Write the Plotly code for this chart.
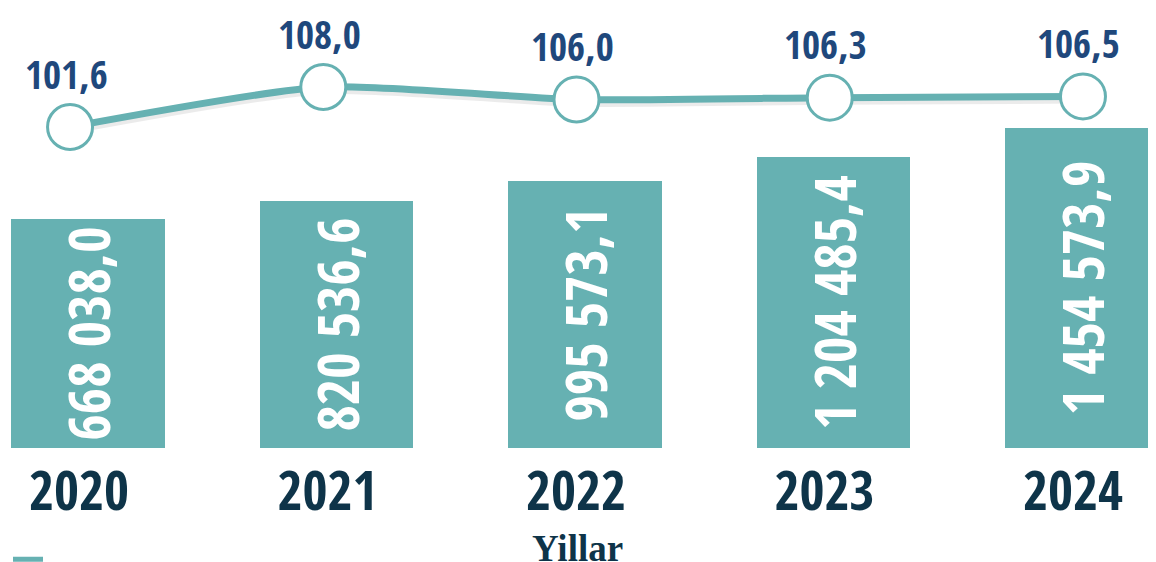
import plotly.graph_objects as go

years = ["2020", "2021", "2022", "2023", "2024"]
volume = [668038.0, 820536.6, 995573.1, 1204485.4, 1454573.9]
index_pct = [101.6, 108.0, 106.0, 106.3, 106.5]
axis_title = "Yillar"

TEAL = "#66B1B2"
BLUE = "#1F487C"
DARK = "#0E3449"
NARROW = "Open Sans Condensed, Roboto Condensed, sans-serif"
BAR_BASE = -1324000


def fmt(v):
    s = f"{v:,.1f}"
    return s.replace(",", " ").replace(".", ",")


fig = go.Figure()

fig.add_trace(go.Bar(
    x=list(range(len(years))), y=[v - BAR_BASE for v in volume], base=BAR_BASE,
    width=0.616, marker=dict(color=TEAL, line=dict(width=0)),
    text=[fmt(v) for v in volume], textposition="inside", textangle=-90,
    insidetextanchor="middle", constraintext="none",
    textfont=dict(family=NARROW, size=57, color="white", weight="bold"),
    showlegend=False, hoverinfo="skip", xaxis="x", yaxis="y",
))

# soft shadow under the line
fig.add_trace(go.Scatter(
    x=list(range(len(years))), y=[v - 0.35 for v in index_pct], mode="lines",
    line=dict(color="rgba(0,0,0,0.08)", width=10, shape="spline", smoothing=0.6),
    showlegend=False, hoverinfo="skip", xaxis="x2", yaxis="y2",
))

fig.add_trace(go.Scatter(
    x=list(range(len(years))), y=index_pct, mode="lines+markers",
    line=dict(color=TEAL, width=7, shape="spline", smoothing=0.6),
    marker=dict(size=45, color="white", line=dict(color=TEAL, width=3)),
    showlegend=False, hoverinfo="skip", xaxis="x2", yaxis="y2",
))

for i, v in enumerate(index_pct):
    fig.add_annotation(
        x=i, y=v, xref="x2", yref="y2", text=f"{v:.1f}".replace(".", ","),
        showarrow=False, yshift=54, xshift=-4,
        font=dict(family=NARROW, size=39, color=BLUE, weight="bold"),
    )

fig.add_annotation(
    x=0.493, y=-0.207, xref="paper", yref="paper", yanchor="middle",
    height=30, valign="middle",
    text=f"<b>{axis_title}</b>", showarrow=False,
    font=dict(family="Liberation Serif, DejaVu Serif, serif", size=37, color=DARK),
)

# legend-only entry
fig.add_trace(go.Scatter(
    x=[None], y=[None], mode="lines", name=" ",
    line=dict(color=TEAL, width=5), showlegend=True,
))

fig.update_layout(
    width=1156, height=562,
    margin=dict(l=0, r=0, t=0, b=115, autoexpand=False),
    paper_bgcolor="white", plot_bgcolor="white",
    xaxis=dict(range=[-0.322, 4.330], tickmode="array", automargin=False,
               tickvals=list(range(len(years))), ticktext=years,
               ticklabelshift=-9, showgrid=False, zeroline=False, showline=False,
               ticks="", ticklabelstandoff=0,
               tickfont=dict(family=NARROW, size=54, color=DARK, weight="bold")),
    yaxis=dict(range=[-1385200, 2501700], visible=False, fixedrange=True),
    xaxis2=dict(range=[-0.245, 4.320], overlaying="x", visible=False),
    yaxis2=dict(range=[49.12, 120.64], overlaying="y", visible=False),
    legend=dict(x=0.0, y=-0.233, xanchor="left", yanchor="middle",
                font=dict(size=10), bgcolor="rgba(0,0,0,0)"),
    bargap=0,
)

fig.write_html("out.html")
